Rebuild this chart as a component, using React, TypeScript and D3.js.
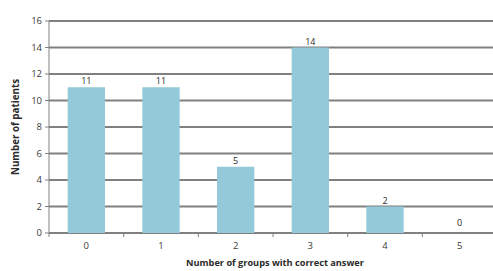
import React from "react";
import * as d3 from "d3";

const categories = ["0", "1", "2", "3", "4", "5"];
const values = [11, 11, 5, 14, 2, 0];
const yTicks = [0, 2, 4, 6, 8, 10, 12, 14, 16];

const W = 493;
const H = 271;
const margin = { left: 49, right: -4, top: 21, bottom: 38 };

export default function App() {
  const x = d3
    .scaleBand<string>()
    .domain(categories)
    .range([margin.left, W - margin.right])
    .paddingInner(0.5)
    .paddingOuter(0.25);
  const xb = d3
    .scaleBand<string>()
    .domain(categories)
    .range([margin.left, W - margin.right]);
  const y = d3.scaleLinear().domain([0, 16]).range([H - margin.bottom, margin.top]);
  const font = "'Open Sans', 'Liberation Sans', sans-serif";
  return (
    <svg
      width={W}
      height={H}
      style={{ position: "absolute", left: 0, top: 0, background: "#fff" }}
      fontFamily={font}
    >
      {yTicks.map((t) => (
        <g key={t}>
          <line
            x1={margin.left}
            x2={W}
            y1={y(t)}
            y2={y(t)}
            stroke="#808080"
            strokeWidth={1.8}
          />
          <line x1={margin.left - 4} x2={margin.left} y1={y(t)} y2={y(t)} stroke="#808080" />
          <text
            x={margin.left - 7}
            y={y(t)}
            dy="0.35em"
            textAnchor="end"
            fontSize={9.5}
            fill="#3a3a3a"
          >
            {t}
          </text>
        </g>
      ))}
      <line
        x1={margin.left}
        x2={margin.left}
        y1={y(16)}
        y2={y(0) + 4}
        stroke="#808080"
      />
      {categories.map((c, i) => (
        <g key={c}>
          <rect
            x={x(c)}
            y={y(values[i])}
            width={x.bandwidth()}
            height={y(0) - y(values[i])}
            fill="#93c9d8"
          />
          <text
            x={x(c)! + x.bandwidth() / 2}
            y={y(values[i]) - (values[i] === 0 ? 7 : 3)}
            textAnchor="middle"
            fontSize={9}
            fill="#2a2a2a"
          >
            {values[i]}
          </text>
          <text
            x={xb(c)! + xb.bandwidth() / 2}
            y={y(0) + 16}
            textAnchor="middle"
            fontSize={9.5}
            fill="#3a3a3a"
          >
            {c}
          </text>
          <line
            x1={xb(c)! + xb.bandwidth()}
            x2={xb(c)! + xb.bandwidth()}
            y1={y(0)}
            y2={y(0) + 4}
            stroke="#808080"
          />
        </g>
      ))}
      <text
        x={(margin.left + W) / 2 + 4}
        y={H - 5}
        textAnchor="middle"
        fontSize={9.2}
        fontWeight="bold"
        fill="#2a2a2a"
      >
        Number of groups with correct answer
      </text>
      <text
        transform={`translate(19, ${(y(0) + y(16)) / 2}) rotate(-90)`}
        textAnchor="middle"
        fontSize={9.8}
        fontWeight="bold"
        fill="#2a2a2a"
      >
        Number of patients
      </text>
    </svg>
  );
}
